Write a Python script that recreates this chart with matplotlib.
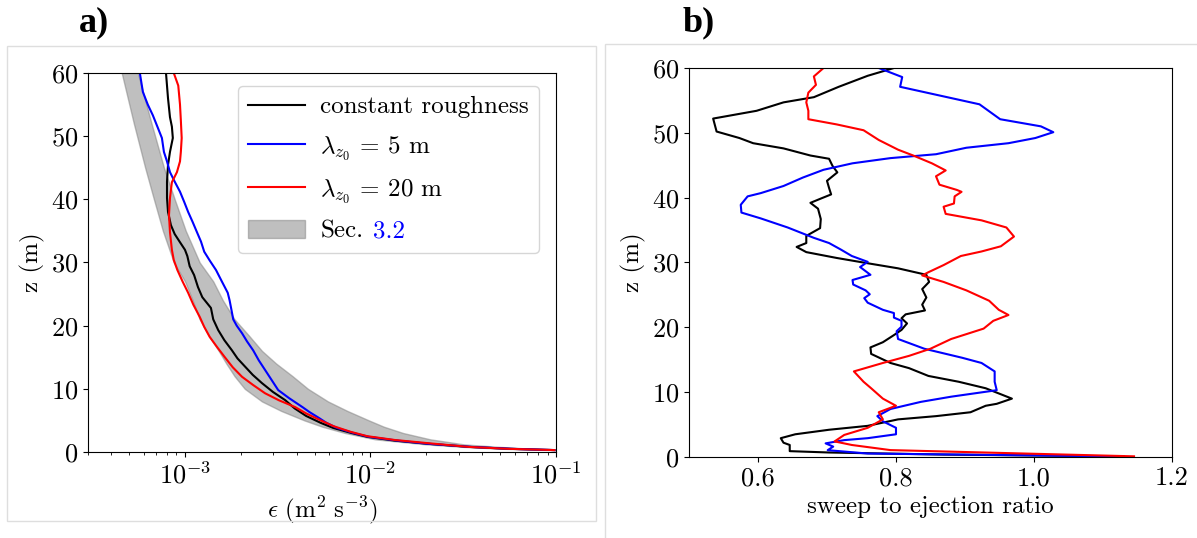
import matplotlib
matplotlib.use("Agg")
import matplotlib.pyplot as plt
from matplotlib.patches import Rectangle

plt.rcParams["font.family"] = "serif"
plt.rcParams["font.serif"] = ["cmr10", "DejaVu Serif"]
plt.rcParams["mathtext.fontset"] = "cm"
plt.rcParams["axes.unicode_minus"] = False
plt.rcParams["axes.formatter.use_mathtext"] = True

# ---- panel a) : dissipation profiles ----
z_band = [0.3, 0.5, 0.8, 1.2, 2, 3, 4, 5, 6.5, 8, 10, 12, 14, 16, 18.5, 21, 24,
          27, 30, 35, 40, 45, 52, 60]
eps_band_lo = [0.095, 0.052, 0.032, 0.020, 0.0106, 0.0073, 0.0055, 0.0044,
               0.0033, 0.0026, 0.0021, 0.00185, 0.00167, 0.00152, 0.00134, 0.0012,
               0.0011, 0.0010, 0.00087, 0.00076, 0.00068, 0.00061, 0.00053,
               0.000456]
eps_band_hi = [0.1, 0.075, 0.050, 0.032, 0.021, 0.015, 0.0118, 0.0098, 0.0075,
               0.0059, 0.0046, 0.0038, 0.0031, 0.0026, 0.0022, 0.00185, 0.0016,
               0.00142, 0.0012, 0.00101, 0.00088, 0.00077, 0.00066, 0.000557]

z_const = [0.3, 0.5, 0.8, 1.3, 1.8, 2.4, 3.0, 3.8, 4.6, 5.7, 6.9, 8.2, 9.5, 10.9,
           12.2, 13.5, 14.8, 16.1, 17.7, 19.3, 21.0, 22.8, 24.5, 26.1, 28.0, 29.4,
           31.0, 32, 33.2, 34.5, 35.9, 38.0, 40.2, 42.8, 45.4, 47.5, 49.7, 51.5, 53,
           56, 60]
eps_const = [0.098, 0.056, 0.034, 0.0203, 0.0135, 0.0096, 0.0079, 0.0063,
             0.0054, 0.0045, 0.0039, 0.00347, 0.00298, 0.0026, 0.00232, 0.00211,
             0.00192, 0.00179, 0.00163, 0.00151, 0.00142, 0.00138, 0.00124,
             0.001175, 0.00112, 0.00106, 0.00103, 0.00100, 0.00094, 0.00088,
             0.00084, 0.00081, 0.0008, 0.00080, 0.00081, 0.00083, 0.00086,
             0.00085, 0.00083, 0.00081, 0.00079]

z_5m = [0.3, 0.5, 0.8, 1.3, 1.8, 2.4, 3.0, 3.8, 4.6, 5.5, 6.3, 7.1, 8.5, 9.8,
        11.4, 13, 14.5, 16.1, 17.5, 18.8, 20.0, 21.0, 22.5, 24.0, 25.2, 27.0,
        28.8, 30.3, 31.7, 33.3, 34.8, 36.4, 38, 39.6, 41.2, 42.8, 44.3, 46.0,
        47.5, 49.7, 51.5, 53.3, 55.0, 57, 60]
eps_5m = [0.098, 0.057, 0.035, 0.0205, 0.0140, 0.0098, 0.0081, 0.0066, 0.0058,
          0.0052, 0.0047, 0.0043, 0.00365, 0.00318, 0.00293, 0.0027, 0.00250,
          0.00233, 0.00216, 0.00203, 0.00190, 0.00182, 0.00178, 0.00174, 0.00170,
          0.00158, 0.00147, 0.00136, 0.00127, 0.00122, 0.00116, 0.00110, 0.00104,
          0.00099, 0.00094, 0.00088, 0.00083, 0.00080, 0.00077, 0.000751,
          0.00071, 0.000671, 0.00063, 0.000593, 0.000571]

z_20m = [0.3, 0.5, 0.8, 1.4, 1.9, 2.5, 3.2, 4.1, 5.1, 6.1, 7.1, 8.2, 9.3, 10.6,
         11.9, 13.4, 15, 16.6, 18.2, 19.8, 21.4, 23.3, 25.2, 27.0, 28.8, 30.4,
         32, 34.8, 37.5, 40.2, 42.7, 44.3, 46.0, 47.5, 49.7, 52.5, 55, 58, 60]
eps_20m = [0.098, 0.055, 0.034, 0.0203, 0.0135, 0.0096, 0.0078, 0.0063, 0.0053,
           0.0045, 0.00393, 0.0032, 0.0027, 0.00233, 0.00203, 0.00181, 0.00164,
           0.00149, 0.00136, 0.00127, 0.0012, 0.00111, 0.00104, 0.00097, 0.00091,
           0.00087, 0.00085, 0.00083, 0.00082, 0.00083, 0.00085, 0.000905,
           0.00094, 0.00095, 0.00096, 0.00095, 0.00094, 0.00092, 0.00087]

# ---- panel b) : sweep to ejection ratio ----
z_b_const = [0.1, 0.37, 0.69, 0.9, 1.85, 2.2, 2.9, 3.5, 4.2, 4.8, 5.8, 6.3, 6.9, 7.9,
             8.2, 9.0, 10.6, 11.6, 12.5, 13.7, 14.5, 15.9, 16.9, 17.7, 18.8, 19.6,
             20.6, 21.4, 22.0, 22.6, 23.5, 24.6, 25.9, 27.0, 28.1, 29.1, 29.9, 30.7,
             31.6, 32.4, 33.0, 34.1, 35.3, 36.7, 38.3, 39.2, 39.9, 40.5, 41.5, 42.6,
             43.9, 44.9, 46.0, 46.5, 47.6, 48.4, 49.2, 50.2, 52.2, 53.4, 54.7, 55.5,
             57.1, 58.8, 60.0]
r_const = [1.13, 0.869, 0.703, 0.646, 0.646, 0.637, 0.633, 0.654, 0.703, 0.759,
           0.803, 0.858, 0.908, 0.930, 0.946, 0.968, 0.930, 0.891, 0.847, 0.819,
           0.792, 0.764, 0.763, 0.781, 0.797, 0.808, 0.816, 0.808, 0.814, 0.842,
           0.838, 0.844, 0.838, 0.848, 0.844, 0.803, 0.758, 0.714, 0.670, 0.656,
           0.670, 0.670, 0.690, 0.691, 0.687, 0.676, 0.692, 0.706, 0.703, 0.700,
           0.715, 0.708, 0.703, 0.676, 0.637, 0.593, 0.573, 0.540, 0.535, 0.598,
           0.637, 0.681, 0.717, 0.759, 0.797]

z_b_5m = [0.1, 0.53, 1.05, 1.6, 2.1, 2.6, 2.9, 3.5, 4.5, 5.5, 6.3, 7.4, 8.5, 9.3,
          10.3, 11.6, 13.2, 14.5, 15.3, 16.7, 18.2, 19.4, 20.1, 21.0, 21.5, 22.2,
          22.7, 23.8, 24.5, 25.1, 25.7, 26.6, 27.3, 28.1, 29.3, 30.1, 31.0, 32.0,
          33.0, 33.8, 35.4, 36.8, 37.7, 38.9, 40.2, 40.7, 41.8, 43.1, 44.3, 45.3,
          46.1, 46.7, 47.7, 48.4, 49.2, 50.1, 51.0, 52.1, 54.4, 57.1, 58.6, 60.0]
r_5m = [1.12, 0.759, 0.701, 0.709, 0.698, 0.725, 0.759, 0.800, 0.800, 0.781,
        0.773, 0.792, 0.836, 0.880, 0.946, 0.943, 0.943, 0.924, 0.896, 0.841,
        0.803, 0.801, 0.808, 0.808, 0.797, 0.797, 0.781, 0.759, 0.754, 0.762,
        0.756, 0.738, 0.737, 0.763, 0.748, 0.759, 0.736, 0.720, 0.703, 0.681,
        0.643, 0.604, 0.576, 0.575, 0.585, 0.604, 0.637, 0.665, 0.695, 0.737,
        0.792, 0.858, 0.902, 0.963, 1.002, 1.028, 1.010, 0.951, 0.921, 0.806,
        0.809, 0.775]

z_b_20m = [0.1, 1.06, 1.85, 2.4, 3.4, 4.5, 5.8, 6.9, 7.9, 9.0, 10.6, 11.6, 13.2,
           14.5, 15.6, 16.7, 18.2, 19.8, 21.0, 21.9, 22.7, 24.1, 25.7, 27.0, 28.0,
           28.5, 29.6, 31.0, 31.7, 32.5, 34.0, 35.4, 36.5, 37.5, 38.6, 39.1, 40.2,
           40.9, 41.2, 42.0, 43.3, 44.2, 45.3, 46.5, 47.4, 48.9, 50.4, 51.3, 52.1,
           53.4, 54.7, 56.2, 57.4, 58.7, 60.0]
r_20m = [1.145, 0.792, 0.736, 0.711, 0.725, 0.759, 0.781, 0.775, 0.800, 0.781,
         0.764, 0.753, 0.739, 0.781, 0.819, 0.850, 0.880, 0.927, 0.941, 0.963,
         0.949, 0.935, 0.902, 0.869, 0.838, 0.847, 0.869, 0.894, 0.924, 0.952,
         0.971, 0.960, 0.924, 0.872, 0.869, 0.884, 0.885, 0.895, 0.888, 0.863,
         0.858, 0.872, 0.852, 0.825, 0.803, 0.775, 0.753, 0.714, 0.673, 0.673,
         0.670, 0.673, 0.684, 0.681, 0.695]

fig = plt.figure(figsize=(11.97, 5.38), dpi=100)

# light frames around the two panels
fig.add_artist(Rectangle((0.006, 0.032), 0.492, 0.883, transform=fig.transFigure,
                         fill=False, ec="#dedede", lw=1))
fig.add_artist(Rectangle((0.5055, -0.01), 0.6, 0.928, transform=fig.transFigure,
                         fill=False, ec="#dedede", lw=1))

ax1 = fig.add_axes([0.0735, 0.1599, 0.391, 0.7045])
ax1.fill_betweenx(z_band, eps_band_lo, eps_band_hi, color="gray", alpha=0.5,
                  label="Sec.")
ax1.plot(eps_const, z_const, color="k", lw=1.5, label="constant roughness")
ax1.plot(eps_5m, z_5m, color="b", lw=1.5, label=r"$\lambda_{z_0}$ = 5 m")
ax1.plot(eps_20m, z_20m, color="r", lw=1.5, label=r"$\lambda_{z_0}$ = 20 m")
ax1.set_xscale("log")
ax1.set_xlim(3e-4, 1e-1)
ax1.set_ylim(0, 60)
ax1.set_yticks([0, 10, 20, 30, 40, 50, 60])
ax1.tick_params(labelsize=19)
ax1.set_xlabel(r"$\epsilon\ (\mathrm{m}^2\ \mathrm{s}^{-3})$", fontsize=18)
ax1.set_ylabel("z (m)", fontsize=18)

h, l = ax1.get_legend_handles_labels()
order = [1, 2, 3, 0]
leg = ax1.legend([h[i] for i in order], [l[i] for i in order], fontsize=18,
                 loc="upper right", bbox_to_anchor=(0.964, 0.966),
                 borderaxespad=0, handlelength=2.3, handletextpad=0.6,
                 labelspacing=0.62)

ax2 = fig.add_axes([0.5756, 0.1506, 0.4035, 0.723])
ax2.plot(r_const, z_b_const, color="k", lw=1.5)
ax2.plot(r_5m, z_b_5m, color="b", lw=1.5)
ax2.plot(r_20m, z_b_20m, color="r", lw=1.5)
ax2.set_xlim(0.5, 1.2)
ax2.set_ylim(0, 60)
ax2.set_xticks([0.6, 0.8, 1.0, 1.2])
ax2.set_xticklabels(["0.6", "0.8", "1.0", "1.2"])
ax2.set_yticks([0, 10, 20, 30, 40, 50, 60])
ax2.tick_params(labelsize=19)
ax2.set_xlabel("sweep to ejection ratio", fontsize=18)
ax2.set_ylabel("z (m)", fontsize=18)

fig.text(0.0785, 0.957, "a)", fontsize=26, fontweight="bold",
         family="Liberation Serif", ha="center", va="center")
fig.text(0.5835, 0.957, "b)", fontsize=26, fontweight="bold",
         family="Liberation Serif", ha="center", va="center")

# blue section number after "Sec." in the legend
fig.canvas.draw()
rend = fig.canvas.get_renderer()
t = leg.get_texts()[3]
bb = t.get_window_extent(rend)
bx, by = t.get_transform().transform(t.get_position())
fx, fy = fig.transFigure.inverted().transform((bb.x1 + 9, by))
fig.text(fx, fy, "3.2", color="b", fontsize=18, ha="left", va="baseline")

fig.savefig("out.png", dpi=100)
